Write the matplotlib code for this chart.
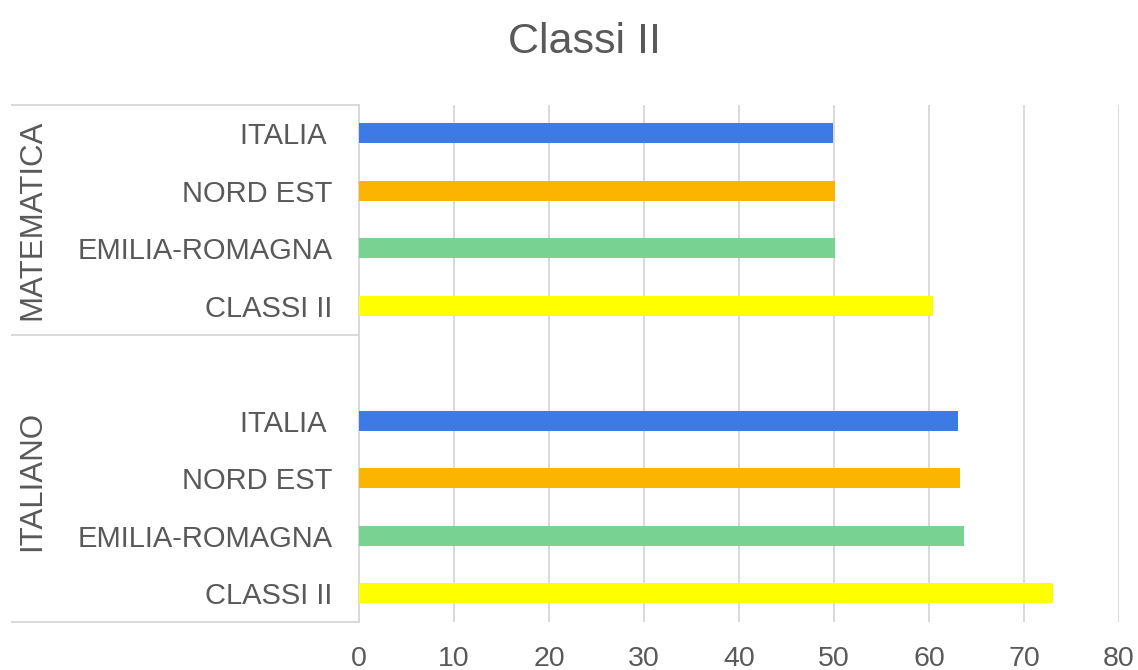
import matplotlib
matplotlib.use("Agg")
import matplotlib.pyplot as plt
import matplotlib.transforms as mtransforms

plt.rcParams["font.family"] = ["Liberation Sans", "DejaVu Sans"]

# --------------------------------------------------------------
# Data
# --------------------------------------------------------------
groups = ["ITALIANO", "MATEMATICA"]
regions = ["CLASSI II", "EMILIA-ROMAGNA", "NORD EST", "ITALIA "]  # bottom -> top
italiano = [73.0, 63.7, 63.3, 63.1]
matematica = [60.4, 50.1, 50.1, 49.9]
region_colors = ["#ffff00", "#78d392", "#f9b500", "#3c7ae6"]
x_ticks = [0, 10, 20, 30, 40, 50, 60, 70, 80]

text_col = "#595959"
line_col = "#d9d9d9"

# --------------------------------------------------------------
# Figure
# --------------------------------------------------------------
fig = plt.figure(figsize=(11.38, 6.70), dpi=100)
ax = fig.add_axes([359 / 1138, 1 - 622 / 670, (1119 - 359) / 1138, (622 - 104.5) / 670])

pos_ita = [0, 1, 2, 3]
pos_mat = [5, 6, 7, 8]
bar_h = 0.35

ax.barh(pos_ita, italiano, height=bar_h, color=region_colors, zorder=3)
ax.barh(pos_mat, matematica, height=bar_h, color=region_colors, zorder=3)

ax.set_xlim(0, 80)
ax.set_ylim(-0.5, 8.5)
ax.set_xticks(x_ticks)
ax.set_xticklabels([str(t) for t in x_ticks], fontsize=20.5)
ax.set_yticks(pos_ita + pos_mat)
ax.set_yticklabels(regions + regions, fontsize=21)

ax.tick_params(axis="x", length=0, pad=17, labelcolor=text_col)
ax.tick_params(axis="y", length=0, pad=19, labelcolor=text_col)

ax.grid(axis="x", color=line_col, linewidth=1.4, zorder=0)
ax.grid(axis="y", visible=False)
for side in ["top", "right", "bottom"]:
    ax.spines[side].set_visible(False)
ax.spines["left"].set_color(line_col)
ax.spines["left"].set_linewidth(1.4)

# group box lines and labels on the left
blend = mtransforms.blended_transform_factory(fig.transFigure, ax.transData)
for yy in [8.5, 4.5, -0.5]:
    ax.plot([12 / 1138, 359 / 1138], [yy, yy], color=line_col, linewidth=1.4,
            transform=blend, clip_on=False)

ax.text(32 / 1138, 1.95, groups[0], rotation=90, ha="center", va="center",
        fontsize=22.5, color=text_col, transform=blend)
ax.text(32 / 1138, 6.5, groups[1], rotation=90, ha="center", va="center",
        fontsize=22.5, color=text_col, transform=blend)

fig.text(585 / 1138, 1 - 53 / 670, "Classi II", ha="center", va="baseline",
         fontsize=31, color=text_col)

fig.savefig("out.png", dpi=100)
